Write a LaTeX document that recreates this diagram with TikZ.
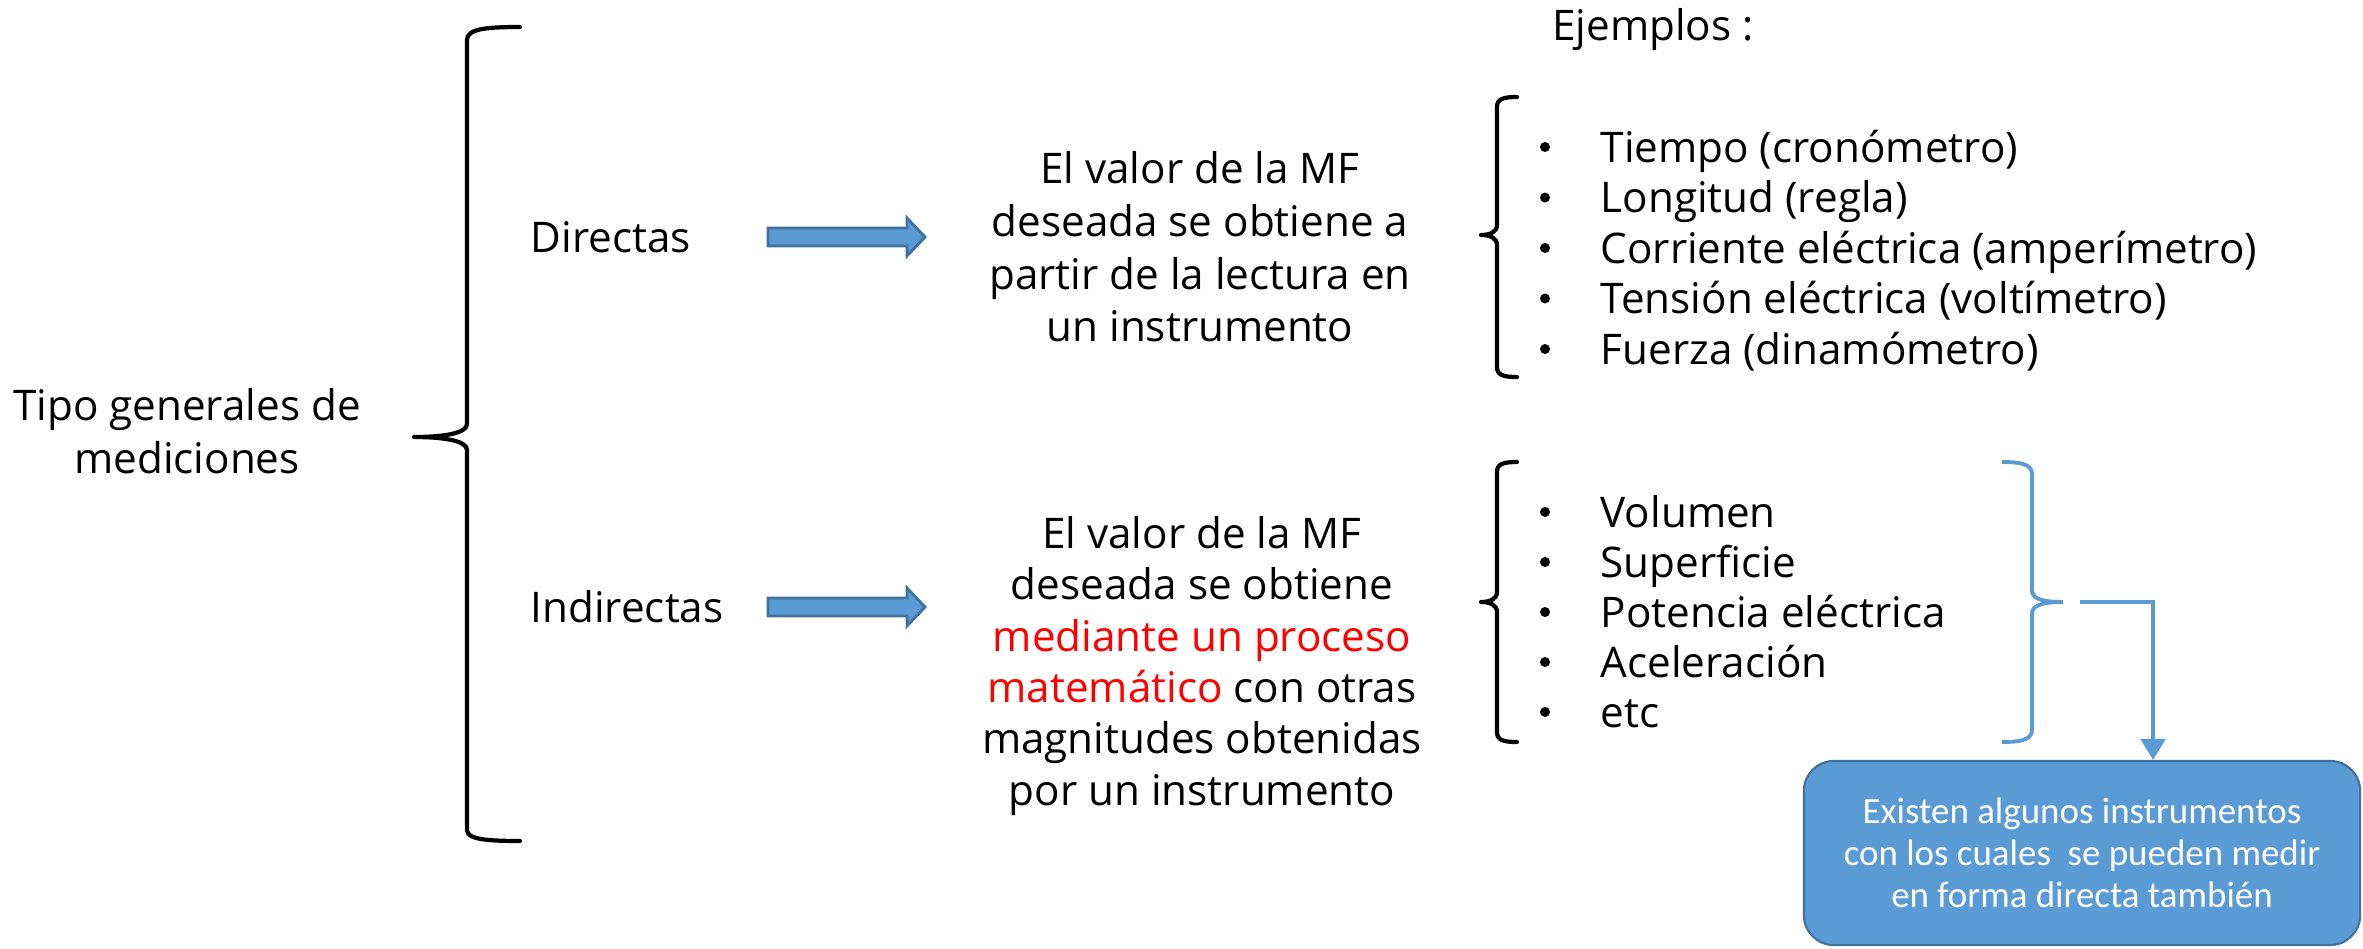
\documentclass[tikz,border=0pt]{standalone}
\usepackage{fontspec}
\setmainfont{Open Sans}
\newfontfamily\notefont{Carlito}
\usepackage{tikz}
\usetikzlibrary{arrows.meta}
\usepackage{xcolor}
\definecolor{boxblue}{HTML}{5B9BD5}
\definecolor{edgeblue}{HTML}{41719C}

\begin{document}
\begin{tikzpicture}[
        x=0.01cm, y=-0.01cm,
        label/.style={font=\fontsize{12}{15}\selectfont, align=center, inner sep=0pt},
        item/.style={font=\fontsize{12}{14}\selectfont, anchor=base west, inner sep=0pt},
        dot/.style={circle, fill, inner sep=0pt, minimum size=0.1cm},
        brace/.style={line width=1.2pt, line cap=round, line join=round},
        bluebrace/.style={line width=1.1pt, draw=boxblue},
        blockarrow/.style={fill=boxblue, draw=edgeblue, line width=0.8pt},
        note/.style={rectangle, rounded corners=0.3cm, fill=boxblue, draw=edgeblue, line width=0.6pt,
            minimum width=5.56cm, minimum height=1.84cm, align=center, text=white,
            font=\notefont\fontsize{10.5}{11.9}\selectfont},
        connection/.style={-{Triangle[width=7pt,length=6pt]}, draw=boxblue, line width=1.1pt}
    ]
    \useasboundingbox (0,0) rectangle (2363,948);

    % Left label and main brace
    \node[label] (tipo) at (187,431) {Tipo generales de\\mediciones};
    \draw[brace] (520,27) .. controls (485,27) and (467,29) .. (467,40) -- (467,424)
        .. controls (467,433) and (445,437) .. (414,437)
        .. controls (445,437) and (467,441) .. (467,450) -- (467,830)
        .. controls (467,839) and (485,841) .. (520,841);

    % Kinds
    \node[item, anchor=west] (dir) at (530,237) {Directas};
    \node[item, anchor=west] (ind) at (530,607) {Indirectas};
    \foreach \y in {237,607} {
        \draw[blockarrow] (768,{\y-9}) -- (907,{\y-9}) -- (907,{\y-19}) -- (925,\y)
            -- (907,{\y+19}) -- (907,{\y+9}) -- (768,{\y+9}) -- cycle;
    }

    % Descriptions
    \node[label] (descdir) at (1200,247) {El valor de la MF\\deseada se obtiene a\\partir de la lectura en\\un instrumento};
    \node[label, font=\fontsize{12}{14.6}\selectfont] (descind) at (1202,666) {El valor de la MF\\deseada se obtiene\\\textcolor{red}{mediante un proceso}\\\textcolor{red}{matemático} con otras\\magnitudes obtenidas\\por un instrumento};

    % Examples
    \node[label] (ejemplos) at (1653,30) {Ejemplos :};
    \foreach \t/\m/\b in {97/235/377, 462/602/742} {
        \draw[brace] (1517,\t) .. controls (1503,\t) and (1497,{\t+2}) .. (1497,{\t+10}) -- (1497,{\m-10})
            .. controls (1497,{\m-3}) and (1490,\m) .. (1481,\m)
            .. controls (1490,\m) and (1497,{\m+3}) .. (1497,{\m+10}) -- (1497,{\b-10})
            .. controls (1497,{\b-2}) and (1503,\b) .. (1517,\b);
    }
    \foreach \txt [count=\i] in {Tiempo (cronómetro), Longitud (regla), Corriente eléctrica (amperímetro), Tensión eléctrica (voltímetro), Fuerza (dinamómetro)} {
        \node[dot] (bt\i) at (1545,{147+50.5*(\i-1)}) {};
        \node[item] (t\i) at (1600,{162+50.5*(\i-1)}) {\txt};
    }
    \foreach \txt [count=\i] in {Volumen, Superficie, Potencia eléctrica, Aceleración, etc} {
        \node[dot] (bi\i) at (1545,{512+50*(\i-1)}) {};
        \node[item] (i\i) at (1600,{527+50*(\i-1)}) {\txt};
    }

    % Blue brace and note
    \draw[bluebrace] (2002,462) .. controls (2020,462) and (2032,464) .. (2032,474) -- (2032,590)
        .. controls (2032,598) and (2040,602) .. (2063,602)
        .. controls (2040,602) and (2032,606) .. (2032,614) -- (2032,730)
        .. controls (2032,740) and (2020,742) .. (2002,742);
    \coordinate (tip) at (2080,602);
    \node[note] (nota) at (2082,853) {Existen algunos instrumentos\\con los cuales~ se pueden medir\\en forma directa también};
    \draw[connection] (tip) -| ([xshift=0.71cm]nota.north);

\end{tikzpicture}
\end{document}
